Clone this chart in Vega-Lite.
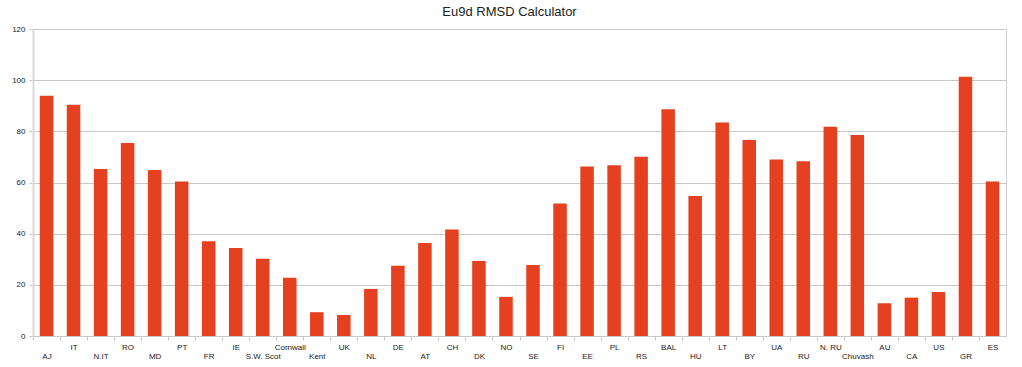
{
  "$schema": "https://vega.github.io/schema/vega-lite/v6.json",
  "width": 973,
  "height": 307,
  "autosize": "none",
  "padding": {"left": 33, "top": 29, "right": 16, "bottom": 31},
  "background": "white",
  "title": {
    "text": "Eu9d RMSD Calculator",
    "font": "Liberation Sans",
    "fontSize": 13,
    "fontWeight": "normal",
    "color": "#222222",
    "anchor": "middle",
    "frame": "group",
    "dx": -10,
    "offset": 6
  },
  "config": {
    "view": {"stroke": "#cfcfcf", "strokeWidth": 1},
    "axis": {
      "labelFont": "Liberation Sans",
      "labelFontSize": 8,
      "labelColor": "#222222",
      "title": null
    }
  },
  "data": {
    "values": [
      {"pop": "AJ", "rmsd": 93.9},
      {"pop": "IT", "rmsd": 90.4},
      {"pop": "N.IT", "rmsd": 65.3},
      {"pop": "RO", "rmsd": 75.4},
      {"pop": "MD", "rmsd": 64.9},
      {"pop": "PT", "rmsd": 60.4},
      {"pop": "FR", "rmsd": 37.0},
      {"pop": "IE", "rmsd": 34.4},
      {"pop": "S.W. Scot", "rmsd": 30.2},
      {"pop": "Cornwall", "rmsd": 22.8},
      {"pop": "Kent", "rmsd": 9.3},
      {"pop": "UK", "rmsd": 8.2},
      {"pop": "NL", "rmsd": 18.4},
      {"pop": "DE", "rmsd": 27.5},
      {"pop": "AT", "rmsd": 36.4},
      {"pop": "CH", "rmsd": 41.6},
      {"pop": "DK", "rmsd": 29.3},
      {"pop": "NO", "rmsd": 15.3},
      {"pop": "SE", "rmsd": 27.8},
      {"pop": "FI", "rmsd": 51.8},
      {"pop": "EE", "rmsd": 66.3},
      {"pop": "PL", "rmsd": 66.7},
      {"pop": "RS", "rmsd": 70.1},
      {"pop": "BAL", "rmsd": 88.6},
      {"pop": "HU", "rmsd": 54.7},
      {"pop": "LT", "rmsd": 83.5},
      {"pop": "BY", "rmsd": 76.6},
      {"pop": "UA", "rmsd": 69.0},
      {"pop": "RU", "rmsd": 68.3},
      {"pop": "N. RU", "rmsd": 81.8},
      {"pop": "Chuvash", "rmsd": 78.6},
      {"pop": "AU", "rmsd": 12.8},
      {"pop": "CA", "rmsd": 15.0},
      {"pop": "US", "rmsd": 17.2},
      {"pop": "GR", "rmsd": 101.3},
      {"pop": "ES", "rmsd": 60.4}
    ]
  },
  "mark": {"type": "bar", "color": "#e5401f"},
  "encoding": {
    "x": {
      "field": "pop",
      "type": "nominal",
      "sort": null,
      "scale": {"paddingInner": 0.5, "paddingOuter": 0.25},
      "axis": {
        "labelAngle": 0,
        "domainColor": "#c8c8c8",
        "tickColor": "#c8c8c8",
        "tickSize": 4,
        "tickOffset": -13.5,
        "labelOffset": 13.5,
        "labelOverlap": false,
        "labelPadding": {"condition": {"test": "round(datum.index * 35) % 2 == 0", "value": 12}, "value": 3}
      }
    },
    "y": {
      "field": "rmsd",
      "type": "quantitative",
      "scale": {"domain": [0, 120], "nice": false},
      "axis": {
        "values": [0, 20, 40, 60, 80, 100, 120],
        "domainColor": "#d9d9d9",
        "domainWidth": 2,
        "tickColor": "#c8c8c8",
        "tickSize": 4,
        "labelPadding": 4,
        "gridColor": "#c8c8c8",
        "gridWidth": 1
      }
    }
  }
}
